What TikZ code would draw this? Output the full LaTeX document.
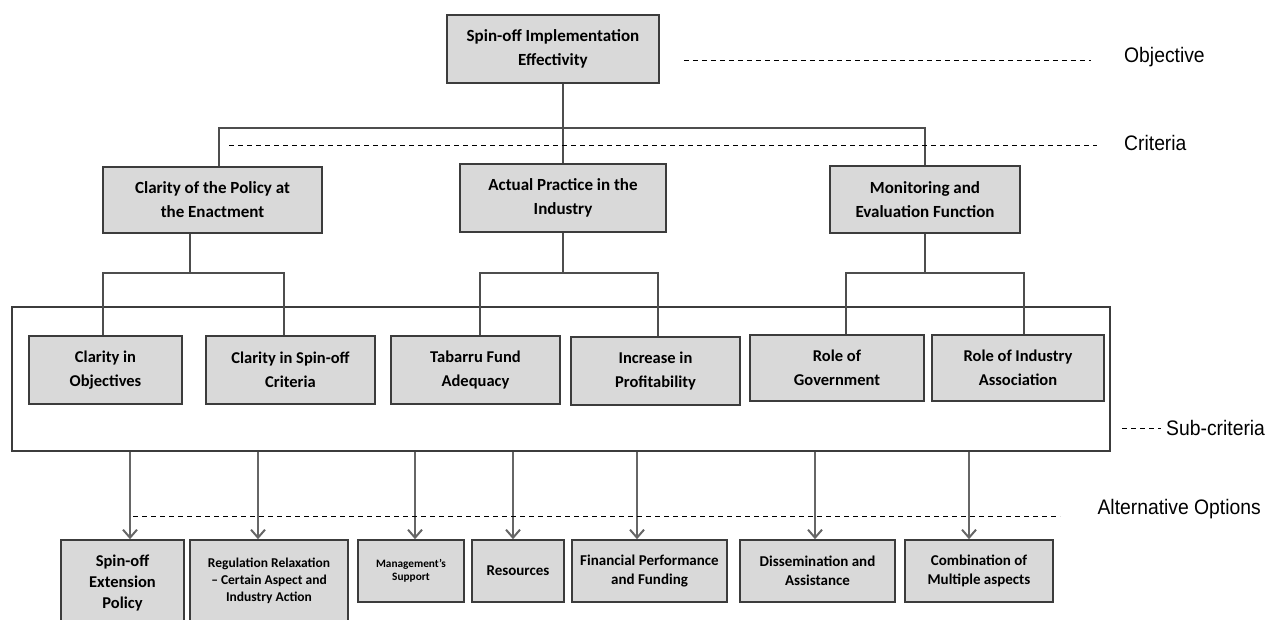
\documentclass[tikz,border=0pt]{standalone}
\usepackage{fontspec}
\setmainfont{Carlito}
\newfontfamily\levelfont[FakeStretch=0.92]{Liberation Sans}
\usetikzlibrary{arrows.meta}
\definecolor{boxfill}{HTML}{D9D9D9}
\definecolor{boxline}{HTML}{3C3C3C}
\definecolor{linkgray}{HTML}{4D4D4D}
\definecolor{arrowgray}{HTML}{666666}
\tikzset{ %inner sep = 0pt,
  {base box/.style} ={draw=boxline, fill=boxfill, line width=1.6pt,
                      rectangle, align=center, inner sep=0pt},
  {crit box/.style} ={base box, font=\bfseries\fontsize{17}{24}\selectfont},
  {sub box/.style} ={base box, font=\bfseries\fontsize{16.5}{24}\selectfont},
  {option box/.style} ={base box, font=\bfseries\fontsize{15}{18.5}\selectfont},
  {small option/.style} ={base box, font=\bfseries\fontsize{13.5}{17}\selectfont},
  {tiny option/.style} ={base box, font=\bfseries\fontsize{11.3}{13.5}\selectfont},
  {frame/.style} ={draw=boxline, line width=1.6pt, rectangle, inner sep=0pt},
  {link/.style} ={draw=linkgray, line width=2pt},
  {level line/.style} ={draw=black, line width=0.9pt, dash pattern=on 5pt off 4pt},
  {level label/.style} ={font=\levelfont\fontsize{21}{25}\selectfont, inner sep=0pt},
  {option arrow/.style} ={draw=arrowgray, line width=2pt,
                  -{Straight Barb[length=8pt,width=14pt,line width=2pt]}},
}

\begin{document}
\begin{tikzpicture}[x=1pt,y=-1pt]
\useasboundingbox (0,0) rectangle (1277,619);
% objective and criteria
\node[crit box, minimum width=212pt, minimum height=68pt] (goal) at (553,49)
     {Spin-off Implementation\\Effectivity};
\node[crit box, minimum width=219pt, minimum height=66pt] (clarity) at (212.5,200)
     {Clarity of the Policy at\\the Enactment};
\node[crit box, minimum width=206pt, minimum height=68pt] (practice) at (563,198)
     {Actual Practice in the\\Industry};
\node[crit box, minimum width=190pt, minimum height=67pt] (monitor) at (925,199.5)
     {Monitoring and\\Evaluation Function};
% sub-criteria
\node[frame, minimum width=1098pt, minimum height=144pt] (subframe) at (561,379) {};
\node[sub box, minimum width=153pt, minimum height=68pt] (objectives) at (105.5,370)
     {Clarity in\\Objectives};
\node[sub box, minimum width=169pt, minimum height=68pt] (spincrit) at (290.5,370)
     {Clarity in Spin-off\\Criteria};
\node[sub box, minimum width=169pt, minimum height=68pt] (tabarru) at (475.5,370)
     {Tabarru Fund\\Adequacy};
\node[sub box, minimum width=169pt, minimum height=68pt] (profit) at (655.5,371)
     {Increase in\\Profitability};
\node[sub box, minimum width=174pt, minimum height=66pt] (government) at (837,368)
     {Role of\\Government};
\node[sub box, minimum width=172pt, minimum height=66pt] (association) at (1018,368)
     {Role of Industry\\Association};
% alternative options
\node[option box, font=\bfseries\fontsize{16.5}{21}\selectfont,
      minimum width=123pt, minimum height=86pt] (extension) at (122.5,583)
     {Spin-off\\Extension\\Policy};
\node[small option, minimum width=158pt, minimum height=82pt] (regulation) at (269,581)
     {Regulation Relaxation\\-- Certain Aspect and\\Industry Action};
\node[tiny option, minimum width=106pt, minimum height=62pt] (management) at (411,571)
     {Management's\\Support};
\node[option box, minimum width=92pt, minimum height=62pt] (resources) at (518,571)
     {Resources};
\node[option box, minimum width=155pt, minimum height=62pt] (financial) at (649.5,571)
     {Financial Performance\\and Funding};
\node[option box, minimum width=155pt, minimum height=62pt] (dissemination) at (817.5,571)
     {Dissemination and\\Assistance};
\node[option box, minimum width=148pt, minimum height=62pt] (combination) at (979,571)
     {Combination of\\Multiple aspects};
% level labels
\node[level label, anchor=west] (objective) at (1124,57) {Objective};
\node[level label, anchor=west] (criteria) at (1124,143) {Criteria};
\node[level label, anchor=west] (subcriteria) at (1166,428) {Sub-criteria};
\node[level label, anchor=east] (alternative) at (1261,509) {Alternative Options};
% tree
\coordinate (crit bar) at (563,128);
\coordinate (clarity bar) at (190,273);
\coordinate (practice bar) at (563,273);
\coordinate (monitor bar) at (925,273);
\draw[link] (goal.south -| practice.north) -- (practice.north);
\draw[link] ([xshift=6.5pt]clarity.north) |- (crit bar) -| (monitor.north);
\draw[link] ([xshift=-22.5pt]clarity.south) -- (clarity bar);
\draw[link] ([xshift=-2.5pt]objectives.north) |- (clarity bar)
            -| ([xshift=-6.5pt]spincrit.north);
\draw[link] (practice.south) -- (practice bar);
\draw[link] ([xshift=4.5pt]tabarru.north) |- (practice bar)
            -| ([xshift=2.5pt]profit.north);
\draw[link] (monitor.south) -- (monitor bar);
\draw[link] ([xshift=9pt]government.north) |- (monitor bar)
            -| ([xshift=6pt]association.north);
\foreach \b/\s in {extension/7.5, regulation/-11, management/4, resources/-5,
                   financial/-12.5, dissemination/-2.5, combination/-10}
  \draw[option arrow] ([xshift=\s pt]\b.north |- subframe.south)
                      -- ([xshift=\s pt]\b.north);
% level lines
\draw[level line] ([xshift=24pt]goal.east |- 0,60) -- (1091,60);
\draw[level line] (229,145) -- (1097,145);
\draw[level line] (1122,428) -- ([xshift=-5pt]subcriteria.west);
\draw[level line] (133,516) -- (1060,516);
\end{tikzpicture}
\end{document}
